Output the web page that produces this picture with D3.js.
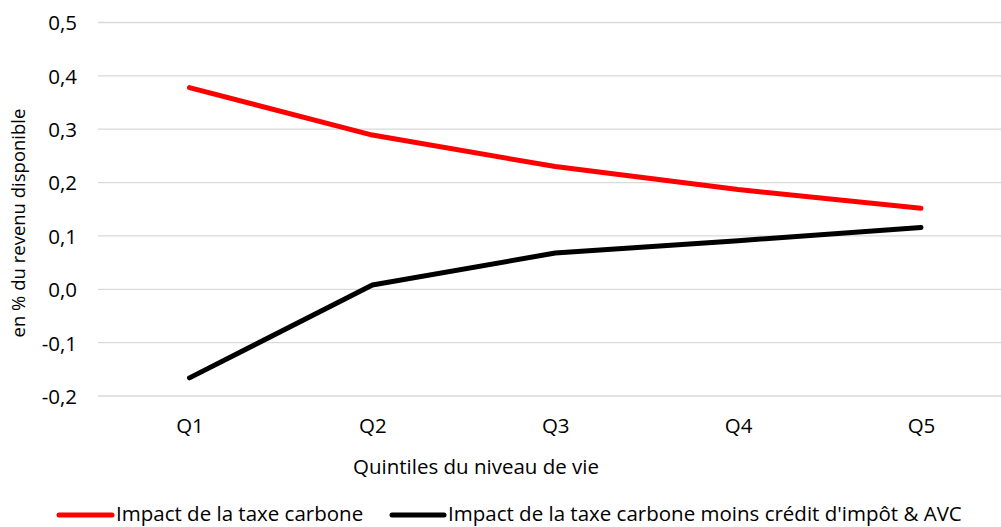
<!DOCTYPE html>
<html>
<head>
<meta charset="utf-8">
<script src="https://cdn.jsdelivr.net/npm/d3@7"></script>
<style>
  html, body { margin: 0; padding: 0; background: #fff; }
  svg { display: block; font-family: "Open Sans", "Noto Sans", sans-serif; }
</style>
</head>
<body>
<svg id="chart" width="1001" height="527"></svg>
<script>
// Quintiles of living standard and the carbon-tax burden (% of disposable income)
const quintiles = ["Q1", "Q2", "Q3", "Q4", "Q5"];
const taxeCarbone = [0.378, 0.289, 0.230, 0.187, 0.152];
const taxeNette = [-0.166, 0.008, 0.068, 0.091, 0.116];
const yTicks = [-0.2, -0.1, 0.0, 0.1, 0.2, 0.3, 0.4, 0.5];
const seriesNames = ["Impact de la taxe carbone", "Impact de la taxe carbone moins crédit d'impôt & AVC"];
const seriesColors = ["#ff0000", "#000000"];

const svg = d3.select("#chart");
const fs = 20.5;

const x = d3.scalePoint().domain(quintiles).range([189.5, 921]).padding(0);
const step = x.step();
const y = d3.scaleLinear().domain([-0.2, 0.5]).range([396, 22.5]);

const fmt = v => d3.format(".1f")(v).replace(".", ",").replace("−", "-");

// horizontal gridlines
svg.append("g")
  .selectAll("line")
  .data(yTicks)
  .join("line")
  .attr("x1", x(quintiles[0]) - step / 2)
  .attr("x2", x(quintiles[4]) + step / 2)
  .attr("y1", d => y(d))
  .attr("y2", d => y(d))
  .attr("stroke", "#d9d9d9")
  .attr("stroke-width", 1.3);

// y axis labels
const yAxis = d3.axisLeft(y).tickValues(yTicks).tickFormat(fmt).tickSize(0).tickPadding(0);
svg.append("g")
  .attr("transform", "translate(77,0)")
  .call(yAxis)
  .call(g => g.select(".domain").remove())
  .call(g => g.selectAll("text")
    .attr("font-family", "'Open Sans', sans-serif")
    .attr("font-size", fs)
    .attr("fill", "#000")
    .attr("dy", "0.36em"));

// x axis labels
const xAxis = d3.axisBottom(x).tickSize(0).tickPadding(0);
svg.append("g")
  .attr("transform", "translate(0,433)")
  .call(xAxis)
  .call(g => g.select(".domain").remove())
  .call(g => g.selectAll("text")
    .attr("font-family", "'Open Sans', sans-serif")
    .attr("font-size", fs)
    .attr("fill", "#000")
    .attr("dy", 0));

// axis titles
svg.append("text")
  .attr("x", 476)
  .attr("y", 474)
  .attr("text-anchor", "middle")
  .attr("font-size", fs)
  .attr("fill", "#000")
  .text("Quintiles du niveau de vie");

svg.append("text")
  .attr("transform", "translate(25,223) rotate(-90)")
  .attr("text-anchor", "middle")
  .attr("font-size", 18.5)
  .attr("fill", "#000")
  .text("en % du revenu disponible");

// series lines
const line = d3.line()
  .x((d, i) => x(quintiles[i]))
  .y(d => y(d));

[taxeCarbone, taxeNette].forEach((vals, k) => {
  svg.append("path")
    .datum(vals)
    .attr("d", line)
    .attr("fill", "none")
    .attr("stroke", seriesColors[k])
    .attr("stroke-width", 5)
    .attr("stroke-linecap", "round")
    .attr("stroke-linejoin", "round");
});

// legend
const legendItems = [
  { x1: 59, x2: 112, tx: 116 },
  { x1: 392, x2: 444, tx: 448 }
];
legendItems.forEach((it, k) => {
  svg.append("line")
    .attr("x1", it.x1).attr("x2", it.x2)
    .attr("y1", 515).attr("y2", 515)
    .attr("stroke", seriesColors[k])
    .attr("stroke-width", 5)
    .attr("stroke-linecap", "round");
  svg.append("text")
    .attr("x", it.tx)
    .attr("y", 521)
    .attr("font-size", fs)
    .attr("fill", "#000")
    .text(seriesNames[k]);
});
</script>
</body>
</html>
